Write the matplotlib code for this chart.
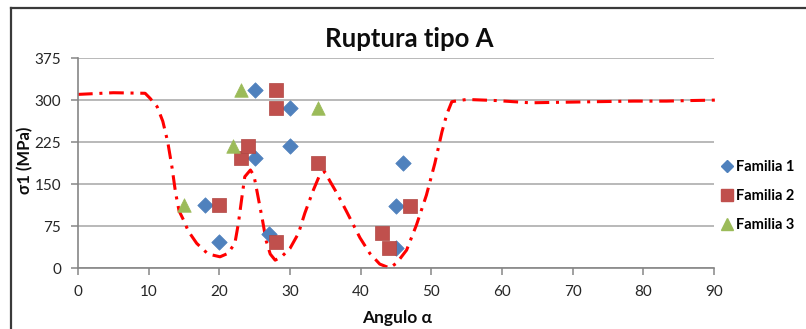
import matplotlib
matplotlib.use("Agg")
import matplotlib.pyplot as plt
from matplotlib.lines import Line2D

# --- data -------------------------------------------------------------
fam1_x = [18, 20, 25, 25, 27, 30, 30, 45, 45, 46]
fam1_y = [113, 46, 318, 196, 61, 285, 218, 111, 36, 188]

fam2_x = [20, 23, 24, 28, 28, 28, 34, 43, 44, 47]
fam2_y = [113, 196, 218, 318, 285, 46, 188, 62, 36, 111]

fam3_x = [15, 22, 23, 34]
fam3_y = [113, 218, 318, 285]

trend_x = [0, 5, 9.5, 10.2, 11.2, 12.0, 12.7, 13.3, 13.8, 14.3, 15.0, 15.6,
           16.8, 18.4, 20.1, 21.2, 22.2, 22.7, 23.2, 23.6, 24.4, 24.9, 25.3,
           26.1, 26.6, 27.2, 27.9, 28.8, 30.0, 31.2, 32.1, 33.3, 34.2, 34.9,
           35.7, 36.8, 38.0, 39.9, 41.3, 42.7, 44.1, 45.1, 46.5, 47.9, 49.3,
           50.5, 51.5, 52.2, 52.9, 55.0, 59.2, 64.0, 68.7, 73.4, 78.6, 83.3,
           86.6, 91.0]
trend_y = [310, 313, 312, 303, 288, 262, 225, 180, 135, 102, 84, 66,
           44, 25, 20, 26, 44, 80, 127, 163, 175, 165, 139,
           86, 50, 25, 14, 20, 35, 62, 98, 139, 166, 172,
           154, 130, 101, 54, 26, 7, 0, 9, 32, 77, 130,
           187, 243, 275, 297, 301, 299, 295, 296, 297, 298, 298,
           299, 300]

x_ticks = [0, 10, 20, 30, 40, 50, 60, 70, 80, 90]
y_ticks = [0, 75, 150, 225, 300, 375]

title = "Ruptura tipo A"
x_label = "Angulo α"
y_label = "σ1 (MPa)"
labels = ["Familia 1", "Familia 2", "Familia 3"]

# --- style ------------------------------------------------------------
plt.rcParams['font.family'] = ['Lato', 'DejaVu Sans']
BLUE, RED, GREEN = "#4F81BD", "#C0504D", "#9BBB59"
GRID = "#A6A6A6"
AXIS = "#868686"

fig = plt.figure(figsize=(8.06, 3.29), dpi=100)
ax = fig.add_axes([78 / 806, 61 / 329, 636 / 806, 210 / 329])

ax.set_xlim(0, 90)
ax.set_ylim(0, 375)
ax.set_xticks(x_ticks)
ax.set_yticks(y_ticks)
ax.yaxis.grid(True, color=GRID, linewidth=1.1)
ax.set_axisbelow(True)

for side in ("top", "right"):
    ax.spines[side].set_visible(False)
for side in ("left", "bottom"):
    ax.spines[side].set_color(AXIS)
    ax.spines[side].set_linewidth(1.2)

ax.tick_params(axis="both", direction="out", length=5, width=1.1,
               color=AXIS, labelsize=11, labelcolor="#262626", pad=7)

# trend line (dash-dot)
ax.plot(trend_x, trend_y, color="#FF0000", linewidth=2.2,
        linestyle=(0, (4.8, 2.2, 1.0, 2.2)), clip_on=False, zorder=2)

# data points
ax.scatter(fam1_x, fam1_y, marker="D", s=62, color=BLUE,
           edgecolor=BLUE, linewidths=0.5, zorder=3)
ax.scatter(fam2_x, fam2_y, marker="s", s=92, color=RED,
           edgecolor="#B04643", linewidths=0.5, zorder=3)
ax.scatter(fam3_x, fam3_y, marker="^", s=95, color=GREEN,
           edgecolor=GREEN, linewidths=0.5, zorder=3)

fig.text(409 / 806, 1 - 39 / 329, title, ha="center", va="center",
         fontsize=18.5, fontweight="bold", color="#0d0d0d")
fig.text(397 / 806, 1 - 318 / 329, x_label, ha="center", va="center",
         fontsize=12.5, fontweight="bold", color="#0d0d0d")
fig.text(25 / 806, 1 - 160 / 329, y_label, ha="center", va="center",
         rotation=90, fontsize=12, fontweight="bold", color="#0d0d0d")

# legend entries
leg_handles = [
    Line2D([], [], marker="D", linestyle="none", color=BLUE, markersize=6.5),
    Line2D([], [], marker="s", linestyle="none", color=RED, markersize=8),
    Line2D([], [], marker="^", linestyle="none", color=GREEN, markersize=8),
]
fig.legend(leg_handles, labels, loc="center left",
           bbox_to_anchor=(712 / 806, 1 - 196 / 329), frameon=False,
           prop={"weight": "bold", "size": 10.5}, handlelength=1.0,
           handletextpad=0.15, labelspacing=1.05, borderpad=0.0)

# chart frame (top and left edges)
fig.add_artist(Line2D([11 / 806, 1.0], [1 - 8 / 329, 1 - 8 / 329],
                      transform=fig.transFigure, color="#3a3a3a", linewidth=1.6))
fig.add_artist(Line2D([11 / 806, 11 / 806], [0, 1 - 8 / 329],
                      transform=fig.transFigure, color="#3a3a3a", linewidth=1.6))

fig.savefig("out.png", dpi=100, facecolor="white")
